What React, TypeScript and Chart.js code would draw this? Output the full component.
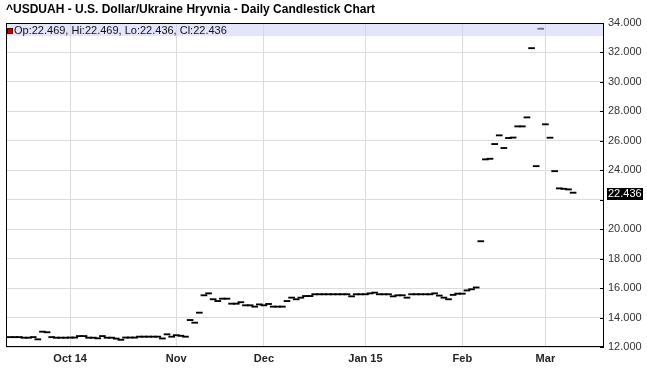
import React, { useEffect, useRef } from "react";
import { Chart, registerables } from "chart.js";
Chart.register(...registerables);

const TITLE = "^USDUAH - U.S. Dollar/Ukraine Hryvnia - Daily Candlestick Chart";
const monthLabels = ["Oct 14", "Nov", "Dec", "Jan 15", "Feb", "Mar"];
const monthStartIndex = [13, 36, 55, 77, 98, 116];
const yTickValues = [12, 14, 16, 18, 20, 22, 24, 26, 28, 30, 32, 34];

const closes = [
  12.63, 12.63, 12.63, 12.59, 12.59, 12.63, 12.48, 13.0, 13.0, 12.63,
  12.59, 12.59, 12.59, 12.6, 12.6, 12.7, 12.7, 12.59, 12.59, 12.55,
  12.7, 12.59, 12.59, 12.53, 12.45, 12.6, 12.6, 12.6, 12.66, 12.66,
  12.66, 12.66, 12.66, 12.54, 12.82, 12.66, 12.76, 12.76, 12.66, 13.79,
  13.61, 14.29, 15.47, 15.6, 15.2, 15.08, 15.24, 15.24, 14.9, 14.9,
  15.0, 14.79, 14.79, 14.7, 14.85, 14.79, 14.88, 14.7, 14.7, 14.7,
  15.08, 15.31, 15.2, 15.31, 15.42, 15.42, 15.54, 15.54, 15.54, 15.54,
  15.54, 15.54, 15.54, 15.54, 15.4, 15.54, 15.54, 15.54, 15.6, 15.65,
  15.54, 15.54, 15.54, 15.4, 15.47, 15.47, 15.31, 15.54, 15.54, 15.54,
  15.54, 15.54, 15.6, 15.45, 15.31, 15.25, 15.5, 15.58, 15.58, 15.8,
  15.88, 16.0, 19.14, 24.7, 24.74, 25.74, 26.33, 25.47, 26.15, 26.18,
  26.94, 26.94, 27.55, 32.25, 24.24, 33.57, 27.08, 26.17, 23.9, 22.73,
  22.7, 22.66, 22.436,
];

const opens = [
  12.63, 12.63, 12.63, 12.59, 12.59, 12.68, 12.48, 13.06, 12.96, 12.63,
  12.59, 12.59, 12.59, 12.6, 12.6, 12.7, 12.7, 12.59, 12.59, 12.55,
  12.75, 12.59, 12.59, 12.53, 12.45, 12.6, 12.6, 12.6, 12.66, 12.66,
  12.66, 12.66, 12.66, 12.54, 12.82, 12.66, 12.8, 12.72, 12.66, 13.86,
  13.61, 14.29, 15.47, 15.6, 15.2, 15.08, 15.24, 15.24, 14.9, 14.9,
  15.0, 14.79, 14.79, 14.7, 14.9, 14.79, 14.88, 14.7, 14.7, 14.7,
  15.08, 15.31, 15.2, 15.31, 15.42, 15.42, 15.54, 15.54, 15.54, 15.54,
  15.54, 15.54, 15.54, 15.54, 15.4, 15.54, 15.54, 15.54, 15.6, 15.65,
  15.54, 15.54, 15.54, 15.4, 15.47, 15.47, 15.31, 15.54, 15.54, 15.54,
  15.54, 15.54, 15.6, 15.45, 15.31, 15.2, 15.5, 15.58, 15.58, 15.86,
  15.88, 16.0, 19.14, 24.7, 24.8, 25.74, 26.33, 25.47, 26.15, 26.24,
  26.94, 26.94, 27.55, 32.25, 24.24, 33.57, 27.08, 26.23, 23.96, 22.73,
  22.76, 22.66, 22.469,
];

const FONT = "'Liberation Sans', Arial, sans-serif";

export default function App() {
  const ref = useRef<HTMLCanvasElement>(null);

  useEffect(() => {
    document.body.style.margin = "0";
    const canvas = ref.current;
    if (!canvas) return;
    const n = closes.length;
    const lastOpen = opens[n - 1];
    const lastClose = closes[n - 1];
    const lastHigh = Math.max(lastOpen, lastClose);
    const lastLow = Math.min(lastOpen, lastClose);

    const overlay = {
      id: "overlay",
      afterDatasetsDraw(chart: any) {
        const { ctx, chartArea } = chart;
        const { left, right, top, bottom } = chartArea;
        const yScale = chart.scales.y;
        ctx.save();
        // legend band
        ctx.fillStyle = "rgba(205,205,245,0.55)";
        ctx.fillRect(left, top, right - left, 13);
        // red square
        ctx.fillStyle = "#cc0000";
        ctx.fillRect(left + 1, top + 5, 6, 6);
        ctx.strokeStyle = "#550000";
        ctx.lineWidth = 1;
        ctx.strokeRect(left + 1.5, top + 5.5, 5, 5);
        ctx.fillStyle = "#111";
        ctx.font = `11px ${FONT}`;
        ctx.textBaseline = "middle";
        ctx.textAlign = "left";
        ctx.fillText(
          `Op:${lastOpen.toFixed(3)}, Hi:${lastHigh.toFixed(3)}, Lo:${lastLow.toFixed(3)}, Cl:${lastClose.toFixed(3)}`,
          left + 8,
          top + 8
        );
        // border
        ctx.strokeStyle = "#000";
        ctx.lineWidth = 1;
        ctx.strokeRect(left + 0.5, top + 0.5, right - left - 1, bottom - top - 1);
        // inward ticks on right axis
        yTickValues.forEach((v) => {
          const y = Math.round(yScale.getPixelForValue(v)) + 0.5;
          ctx.beginPath();
          ctx.moveTo(right - 4, y);
          ctx.lineTo(right, y);
          ctx.stroke();
        });
        // last value box
        const ly = Math.round(yScale.getPixelForValue(lastClose));
        ctx.fillStyle = "#000";
        ctx.fillRect(right + 3, ly - 5, 36, 12);
        ctx.fillStyle = "#fff";
        ctx.font = `11px ${FONT}`;
        ctx.fillText(lastClose.toFixed(3), right + 4, ly + 1);
        // title
        ctx.fillStyle = "#000";
        ctx.font = `bold 12px ${FONT}`;
        ctx.fillText(TITLE, 6, 10);
        ctx.restore();
      },
    };

    const chart = new Chart(canvas, {
      type: "bar",
      data: {
        datasets: [
          {
            data: closes.map((c, i) => ({ x: i, y: [opens[i], c] })) as any,
            backgroundColor: "#000",
            borderWidth: 0,
            barThickness: 6,
            minBarLength: 1.2,
          },
        ],
      },
      options: {
        animation: false,
        responsive: false,
        events: [],
        layout: { padding: { left: 6, top: 23, right: 0, bottom: 0 } },
        plugins: {
          legend: { display: false },
          tooltip: { enabled: false },
          title: { display: false },
        },
        scales: {
          x: {
            type: "linear",
            offset: false,
            min: -0.9,
            max: 128.7,
            afterBuildTicks: (s: any) => {
              s.ticks = monthStartIndex.map((v) => ({ value: v }));
            },
            afterFit: (s: any) => {
              s.height = 21;
            },
            grid: { color: "#dcdcdc", drawTicks: false, offset: false },
            border: { display: false },
            ticks: {
              autoSkip: false,
              maxRotation: 0,
              padding: 5,
              color: "#222",
              font: { family: FONT, size: 11, weight: "bold" },
              callback: (_v: any, i: number) => monthLabels[i] ?? "",
            },
          },
          y: {
            position: "right",
            min: 12,
            max: 34,
            afterBuildTicks: (s: any) => {
              s.ticks = yTickValues.map((v) => ({ value: v }));
            },
            afterFit: (s: any) => {
              s.width = 43;
            },
            grid: { color: "#dcdcdc", drawTicks: false },
            border: { display: false },
            ticks: {
              padding: 4,
              color: "#333",
              font: { family: FONT, size: 11 },
              callback: (v: any) =>
                Math.abs(Number(v) - lastClose) < 1 ? "" : Number(v).toFixed(3),
            },
          },
        },
      } as any,
      plugins: [overlay],
    });
    return () => chart.destroy();
  }, []);

  return (
    <div style={{ position: "absolute", left: 0, top: 0, width: 647, height: 368 }}>
      <canvas ref={ref} width={647} height={368} style={{ display: "block" }} />
    </div>
  );
}
